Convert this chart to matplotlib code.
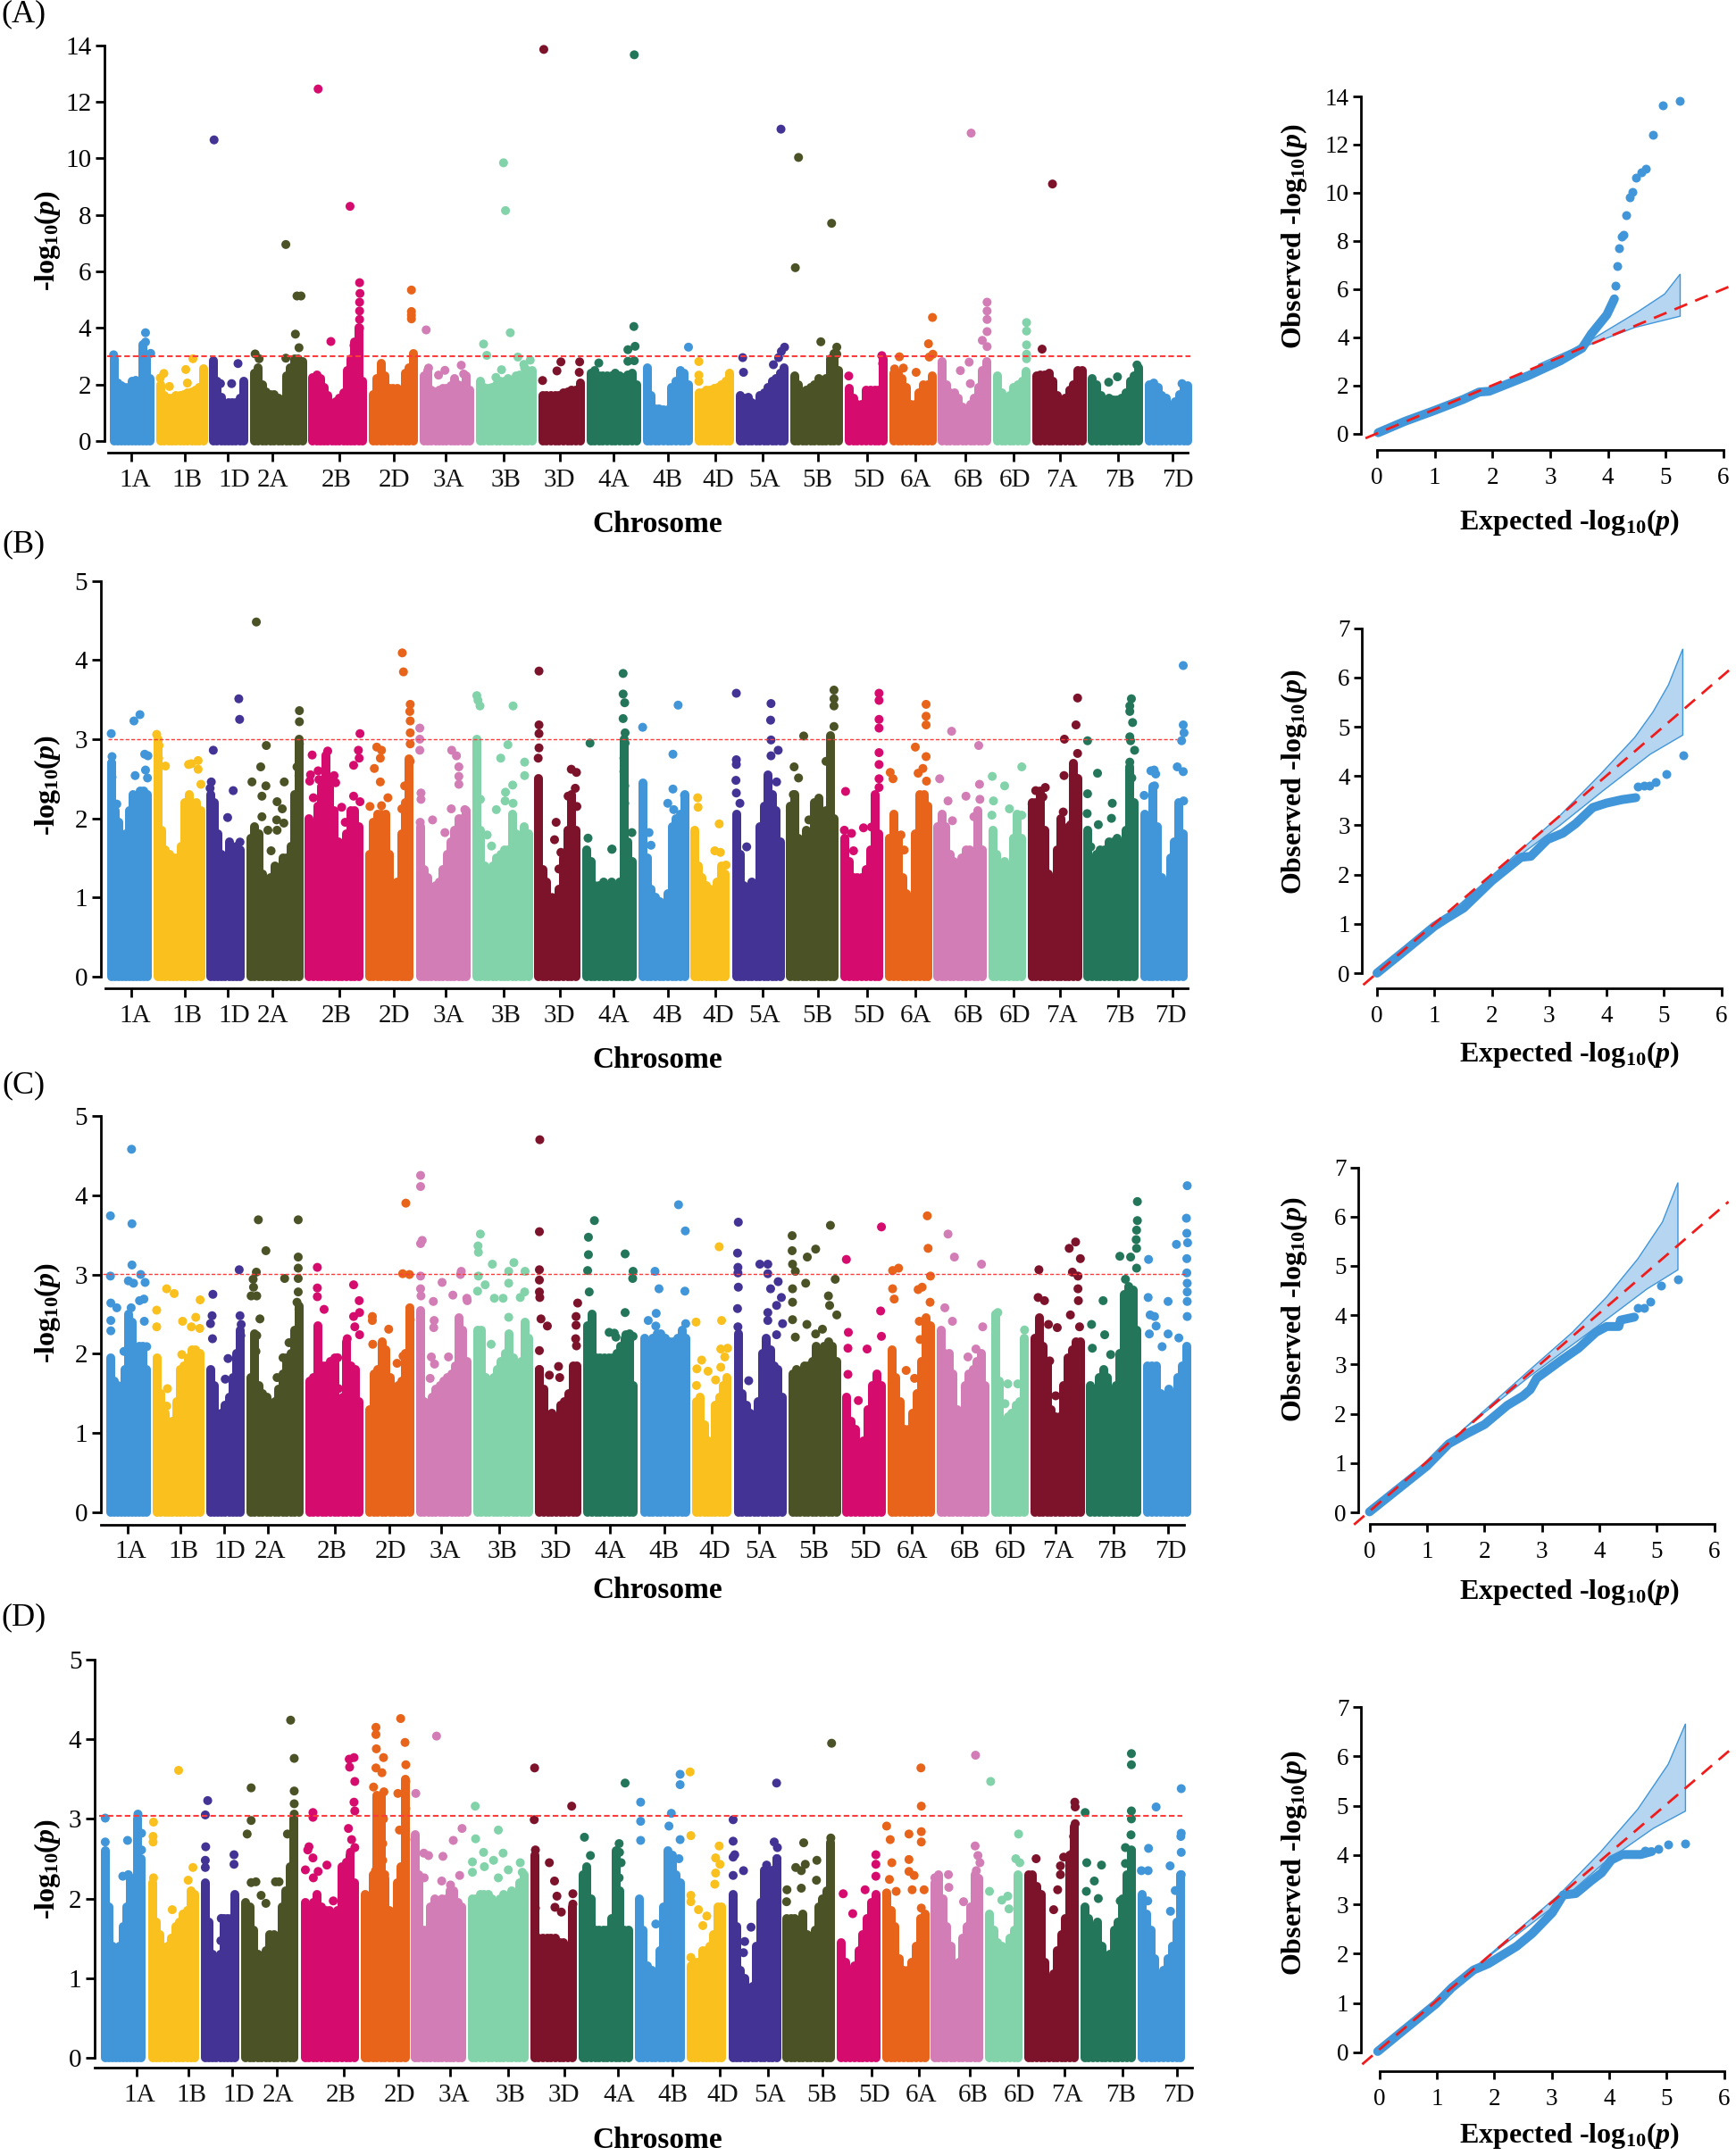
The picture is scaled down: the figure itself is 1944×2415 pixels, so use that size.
import matplotlib
matplotlib.use("Agg")
import matplotlib.pyplot as plt
import numpy as np

plt.rcParams['font.family'] = ['Liberation Serif', 'DejaVu Serif']
plt.rcParams['mathtext.fontset'] = 'custom'
plt.rcParams['mathtext.rm'] = 'Liberation Serif:bold'
plt.rcParams['mathtext.it'] = 'Liberation Serif:italic:bold'
plt.rcParams['mathtext.bf'] = 'Liberation Serif:bold'

W, H = 1944, 2415
UNIT = 700 / 1568   # px per genome-axis unit

chroms = ['1A', '1B', '1D', '2A', '2B', '2D', '3A', '3B', '3D', '4A', '4B', '4D',
          '5A', '5B', '5D', '6A', '6B', '6D', '7A', '7B', '7D']
chrom_width = [112, 129, 97, 143, 146, 122, 138, 151, 116, 136, 126, 99,
               132, 132, 108, 118, 133, 94, 136, 138, 119]
palette = ['#4196D9', '#F9C01E', '#433394', '#4A5226', '#D50B6E', '#E7641A', '#D37DB6',
           '#83D3AA', '#7C132B', '#24765A']
chrom_colors = [palette[i % 10] for i in range(21)]

# chromosome starts along each panel's axis
a_start = [276, 392, 525, 627, 774, 925, 1052, 1194, 1350, 1471, 1612, 1742, 1846, 1982, 2119, 2231, 2353, 2491, 2589, 2729, 2872]
b_start = [268, 385, 517, 618, 765, 916, 1043, 1185, 1340, 1461, 1602, 1731, 1836, 1972, 2108, 2221, 2342, 2479, 2578, 2718, 2860]
c_start = [266, 383, 517, 618, 766, 917, 1044, 1187, 1343, 1464, 1606, 1736, 1841, 1977, 2113, 2226, 2349, 2486, 2585, 2725, 2868]
d_start = [254, 371, 504, 606, 754, 905, 1031, 1174, 1330, 1451, 1592, 1722, 1827, 1963, 2100, 2213, 2334, 2471, 2569, 2710, 2854]

ab_ticks = [330, 463, 572, 683, 851, 987, 1117, 1263, 1404, 1538, 1676, 1794, 1914, 2051, 2175, 2295, 2422, 2542, 2658, 2804, 2941]
c_ticks = [321, 453, 562, 673, 840, 977, 1107, 1253, 1394, 1530, 1666, 1785, 1905, 2041, 2165, 2286, 2413, 2533, 2648, 2794, 2931]
d_ticks = [342, 473, 583, 694, 862, 998, 1128, 1274, 1415, 1551, 1687, 1806, 1926, 2062, 2186, 2306, 2433, 2553, 2669, 2815, 2952]

a_labpos = [338, 470, 587, 685, 843, 990, 1126, 1269, 1403, 1540, 1675, 1801, 1918, 2050, 2180, 2298, 2429, 2545, 2664, 2809, 2955]
b_labpos = [338, 470, 587, 685, 843, 990, 1126, 1269, 1403, 1540, 1675, 1801, 1918, 2050, 2180, 2298, 2429, 2545, 2664, 2809, 2937]
c_labpos = [328, 460, 577, 677, 833, 981, 1116, 1260, 1393, 1530, 1666, 1792, 1909, 2041, 2171, 2288, 2420, 2535, 2655, 2790, 2936]
d_labpos = [350, 481, 598, 697, 855, 1002, 1138, 1281, 1414, 1553, 1687, 1813, 1930, 2062, 2192, 2310, 2441, 2556, 2676, 2811, 2957]

# top of the dense band of SNPs, chromosome by chromosome
a_env = [[2.9, 2.05, 1.95, 1.9, 1.9, 2.1, 2.15, 1.95, 3.4, 2.9, 2.2],
         [2.0, 1.6, 1.5, 1.5, 1.6, 1.6, 1.65, 1.7, 1.75, 1.8, 1.9, 2.55],
         [2.85, 2.1, 1.55, 1.2, 1.35, 1.35, 1.35, 1.5, 2.1],
         [2.4, 2.6, 2.0, 1.75, 1.65, 1.65, 1.5, 1.45, 2.3, 2.6, 2.9, 2.9, 2.8],
         [2.25, 2.35, 2.2, 1.9, 1.6, 1.3, 1.4, 1.5, 1.7, 2.5, 2.9, 3.5, 4.0, 2.1],
         [1.65, 2.2, 2.75, 2.3, 1.85, 1.85, 1.85, 1.75, 2.4, 2.6, 3.1],
         [2.3, 2.5, 1.8, 1.75, 1.8, 1.85, 1.85, 1.95, 2.2, 2.0, 1.95, 2.3, 1.8],
         [2.1, 1.9, 1.85, 1.9, 2.0, 2.1, 2.1, 2.2, 2.1, 2.3, 2.35, 2.35, 2.5, 2.5],
         [1.6, 1.6, 1.6, 1.6, 1.6, 1.7, 1.75, 1.8, 1.8, 2.05],
         [2.4, 2.5, 2.3, 2.3, 2.3, 2.3, 2.4, 2.3, 2.25, 2.35, 2.4, 2.0],
         [2.6, 1.6, 1.15, 1.15, 1.1, 1.1, 1.9, 2.1, 2.5, 2.4, 2.0],
         [1.7, 1.7, 1.8, 1.8, 1.85, 1.9, 2.0, 2.1, 2.4],
         [1.6, 1.5, 1.55, 1.35, 1.3, 1.6, 1.7, 1.9, 2.1, 2.2, 2.4, 2.6],
         [2.3, 2.0, 1.7, 1.8, 1.9, 2.0, 2.2, 1.9, 2.2, 2.9, 3.1, 2.5],
         [1.85, 1.5, 1.3, 1.3, 1.8, 1.8, 1.8, 1.8, 2.9],
         [2.4, 2.4, 2.2, 1.9, 1.3, 1.3, 1.7, 2.0, 2.0, 2.3],
         [2.8, 2.0, 1.7, 1.7, 1.5, 1.2, 1.15, 1.3, 1.5, 1.9, 2.5, 2.8],
         [2.3, 1.7, 1.5, 1.6, 1.9, 2.0, 2.1, 2.45],
         [2.3, 2.35, 2.35, 2.4, 2.1, 1.6, 1.4, 1.5, 1.8, 2.0, 2.5, 2.5],
         [2.2, 2.0, 1.6, 1.45, 1.5, 1.45, 1.45, 1.5, 1.7, 2.1, 2.3, 2.6],
         [2.0, 2.05, 1.9, 1.6, 1.5, 1.25, 1.4, 1.65, 1.9, 1.95]]

b_env = [[2.7, 2.1, 1.95, 1.75, 1.8, 2.1, 2.3, 2.1, 2.35, 2.35, 2.3],
         [3.0, 1.85, 1.6, 1.55, 1.5, 1.5, 1.65, 2.2, 2.3, 1.95, 2.2, 2.1],
         [2.3, 2.2, 1.8, 1.55, 1.4, 1.7, 1.4, 1.65, 1.6],
         [1.75, 1.9, 1.8, 1.3, 1.15, 1.25, 1.4, 1.2, 1.5, 1.5, 1.65, 2.3, 3.0],
         [2.0, 1.9, 2.15, 2.4, 2.8, 2.5, 2.1, 1.7, 1.4, 1.8, 2.1, 2.1, 1.9],
         [1.55, 1.95, 2.05, 2.05, 2.05, 1.55, 1.15, 1.2, 1.8, 2.2, 2.75],
         [1.9, 1.35, 1.25, 1.1, 1.15, 1.2, 1.35, 1.55, 1.7, 1.85, 2.0, 2.0, 2.1],
         [3.0, 1.85, 1.4, 1.35, 1.4, 1.5, 1.55, 1.6, 1.6, 2.05, 1.8, 1.55, 1.9, 1.8],
         [2.5, 1.35, 1.2, 0.95, 0.7, 1.1, 1.5, 1.85, 2.3, 1.85],
         [1.6, 1.45, 1.15, 1.15, 1.2, 1.15, 1.2, 1.1, 1.2, 3.0, 1.7, 1.45],
         [2.45, 1.5, 1.1, 1.0, 0.95, 0.9, 1.05, 1.9, 2.0, 2.05, 2.3],
         [1.85, 1.4, 1.25, 1.15, 1.1, 0.95, 1.2, 1.4, 1.3],
         [2.05, 1.55, 1.15, 0.95, 1.2, 1.15, 1.9, 2.15, 2.55, 2.3, 2.1, 1.7],
         [2.15, 2.3, 1.75, 1.6, 1.85, 1.7, 2.2, 2.25, 1.85, 2.1, 3.05, 2.0],
         [1.75, 1.45, 1.25, 1.25, 1.25, 1.35, 1.6, 2.3, 1.8],
         [1.75, 2.05, 1.75, 1.25, 1.05, 1.0, 1.8, 2.3, 2.3, 2.15],
         [1.9, 2.05, 1.9, 1.55, 1.45, 1.4, 1.5, 1.6, 1.6, 1.5, 2.1, 1.6],
         [1.85, 1.55, 1.35, 1.45, 1.2, 1.75, 2.05, 1.75],
         [2.2, 2.2, 2.35, 1.85, 1.3, 0.95, 1.6, 2.0, 1.75, 1.9, 2.7, 2.5],
         [1.85, 1.4, 1.55, 1.6, 1.6, 1.7, 1.7, 1.75, 1.55, 1.85, 2.65, 2.2],
         [2.05, 1.95, 2.4, 1.9, 1.25, 1.1, 1.5, 1.7, 2.2, 1.8]]

c_env = [[1.95, 1.65, 1.6, 1.35, 1.8, 2.5, 2.4, 2.0, 2.1, 2.1, 1.8],
         [1.95, 1.5, 1.25, 0.85, 1.15, 1.4, 1.8, 1.85, 1.95, 2.05, 2.05, 2.0],
         [1.8, 1.6, 1.05, 1.25, 1.35, 1.45, 1.7, 2.0, 2.3],
         [1.7, 2.25, 1.6, 1.5, 1.45, 1.35, 1.4, 1.55, 1.75, 1.95, 2.0, 2.3, 2.6],
         [1.65, 1.7, 2.35, 1.85, 1.85, 1.9, 1.95, 1.4, 1.45, 2.15, 1.85, 1.8, 1.4],
         [1.3, 1.75, 1.8, 2.15, 2.05, 1.7, 1.25, 1.6, 1.65, 2.0, 2.55],
         [2.55, 1.4, 1.25, 1.45, 1.55, 1.6, 1.65, 1.7, 1.75, 1.85, 2.45, 2.3, 1.9],
         [2.3, 2.3, 1.7, 1.6, 1.7, 1.8, 1.9, 2.0, 2.25, 1.95, 1.7, 1.9, 2.4, 2.2],
         [1.8, 1.55, 1.2, 1.25, 1.2, 1.35, 1.4, 1.5, 1.85, 1.85],
         [2.35, 2.5, 1.95, 1.95, 1.95, 1.95, 1.95, 2.0, 2.1, 2.2, 2.25, 1.6],
         [2.2, 2.15, 2.2, 2.25, 2.25, 2.2, 2.15, 2.15, 2.2, 2.3, 2.2],
         [1.4, 1.45, 1.1, 0.9, 0.75, 1.35, 1.45, 1.6, 1.7],
         [2.25, 1.5, 1.35, 1.25, 1.2, 1.4, 2.0, 2.2, 2.05, 1.85, 1.8, 1.45],
         [1.75, 1.8, 1.75, 1.85, 1.85, 1.9, 2.1, 1.85, 2.1, 2.15, 2.1, 1.9],
         [1.45, 1.15, 1.05, 0.8, 0.9, 1.3, 1.6, 1.75, 1.6],
         [2.05, 1.7, 1.4, 1.05, 1.05, 1.25, 1.5, 1.9, 2.45, 2.35],
         [2.3, 2.0, 2.0, 1.75, 1.3, 1.25, 1.6, 1.75, 1.8, 1.9, 2.0, 1.6],
         [2.5, 1.65, 1.15, 1.2, 1.25, 1.35, 1.4, 2.2],
         [2.2, 2.45, 2.1, 1.9, 1.3, 1.2, 1.2, 1.6, 1.95, 2.05, 2.15, 2.15],
         [1.6, 1.55, 1.7, 1.8, 1.7, 1.45, 1.6, 2.0, 2.75, 2.85, 2.8, 2.3],
         [1.85, 1.85, 1.85, 1.5, 1.4, 1.55, 1.3, 1.7, 1.85, 2.1]]

d_env = [[2.6, 1.9, 1.4, 1.35, 1.4, 1.65, 1.9, 2.25, 2.25, 3.0, 2.5],
         [2.2, 1.7, 1.55, 1.1, 1.4, 1.5, 1.65, 1.7, 1.8, 1.85, 2.1, 2.05],
         [2.2, 1.7, 1.3, 1.1, 1.3, 1.75, 1.75, 1.75, 2.05],
         [1.95, 1.9, 1.6, 1.3, 1.2, 1.35, 1.55, 1.55, 1.5, 1.9, 2.1, 2.4, 3.0],
         [1.95, 1.75, 1.95, 2.05, 1.9, 1.85, 1.85, 1.6, 1.85, 2.4, 2.45, 2.55, 2.2],
         [2.05, 1.95, 2.3, 3.3, 3.3, 2.25, 1.85, 1.8, 2.2, 2.4, 3.5],
         [2.8, 2.3, 1.6, 1.6, 1.9, 2.0, 1.95, 2.0, 2.0, 2.1, 2.1, 1.95, 1.9],
         [2.0, 2.0, 2.05, 2.05, 2.05, 2.0, 1.95, 2.0, 2.05, 2.0, 2.1, 2.0, 2.2, 2.3],
         [2.55, 1.5, 1.5, 1.5, 1.5, 1.5, 1.45, 1.45, 1.4, 1.9],
         [2.3, 2.4, 2.0, 1.6, 1.6, 1.6, 1.6, 1.75, 2.6, 2.1, 1.6, 1.6],
         [2.0, 1.6, 1.15, 1.1, 1.05, 1.35, 1.9, 2.6, 2.55, 2.3, 2.2],
         [1.15, 1.2, 1.2, 1.35, 1.35, 1.4, 1.55, 1.9, 1.9],
         [2.05, 1.65, 1.1, 1.0, 0.85, 0.9, 1.4, 1.95, 2.35, 2.2, 2.35, 2.5],
         [1.75, 1.75, 1.75, 1.7, 1.8, 1.55, 1.45, 1.6, 1.9, 2.0, 2.1, 2.7],
         [1.45, 1.2, 1.05, 1.15, 1.35, 1.55, 1.75, 1.95, 2.05],
         [2.05, 1.85, 1.65, 1.25, 1.1, 1.1, 1.2, 1.4, 1.75, 1.8],
         [2.2, 2.3, 2.0, 1.65, 1.4, 1.05, 1.2, 1.5, 1.65, 1.9, 2.3, 2.25],
         [1.8, 1.6, 1.45, 1.4, 1.3, 1.5, 1.6, 2.3],
         [2.3, 2.3, 2.15, 2.05, 1.2, 0.95, 1.05, 1.35, 1.55, 1.75, 2.55, 2.9],
         [1.9, 1.75, 1.6, 1.7, 1.4, 1.25, 1.3, 1.6, 1.7, 2.0, 2.3, 2.6],
         [2.05, 1.8, 1.6, 1.25, 1.0, 1.1, 1.25, 1.4, 1.7, 2.3]]

# single SNPs above the band, (position, -log10 p); *_r positions are counted from 1523
a_pts = [(537, 10.65), (798, 12.45), (878, 8.3), (1263, 9.84), (1268, 8.15), (1364, 13.85), (717, 6.95), (745, 5.13), (755, 5.13),
         (741, 3.78), (750, 3.3), (717, 2.93), (830, 3.52), (888, 3.38), (902, 5.6), (903, 5.22), (902, 4.91), (902, 4.6), (902, 4.3),
         (902, 3.99), (1032, 5.34), (1032, 4.58), (1032, 4.45), (1032, 4.32), (1069, 3.93), (1280, 3.83), (1213, 3.43), (1221, 3.03),
         (1299, 2.97), (1330, 2.86), (1314, 2.71), (1316, 2.58), (1258, 2.52), (1244, 2.25), (365, 3.83), (365, 3.5), (378, 3.1),
         (285, 3.05), (484, 2.91), (466, 2.53), (470, 2.05), (425, 1.93), (411, 2.39), (402, 2.23), (597, 2.74), (581, 2.03), (553, 2.03),
         (640, 3.08), (650, 2.91), (1407, 2.8), (1454, 2.8), (1397, 2.48), (1453, 2.43), (1361, 2.14), (1075, 2.58), (1116, 2.5),
         (1157, 2.68), (1100, 2.33), (1163, 2.37), (1502, 2.76)]
a_pts_r = [(68, 13.66), (67, 4.05), (52, 3.23), (70, 3.35), (52, 2.82), (68, 2.84), (436, 11.03), (480, 10.03), (563, 7.7), (472, 6.13),
           (913, 10.89), (1117, 9.09), (204, 3.32), (230, 2.81), (230, 2.33), (230, 2.11), (340, 2.95), (342, 2.43), (445, 3.32),
           (437, 3.17), (430, 2.95), (417, 2.7), (536, 3.51), (576, 3.32), (576, 3.07), (606, 2.3), (689, 3.02), (691, 2.74), (816, 4.37),
           (806, 3.44), (817, 3.07), (808, 2.97), (733, 2.98), (743, 2.58), (721, 2.55), (775, 2.43), (953, 4.91), (953, 4.6), (953, 4.3),
           (953, 3.87), (941, 3.56), (953, 3.34), (908, 2.79), (886, 2.49), (911, 2.03), (1052, 4.19), (1052, 3.89), (1052, 3.4),
           (1052, 3.07), (1052, 2.91), (1091, 3.25), (1329, 2.69), (1280, 2.27), (1258, 2.08), (1442, 2.03)]

b_pts = [(279, 3.07), (281, 2.78), (280, 2.7), (281, 2.52), (280, 2.45), (280, 2.29), (293, 2.18), (336, 3.23), (351, 3.31), (363, 2.81),
         (371, 2.79), (339, 2.54), (365, 2.61), (370, 2.51), (393, 3.06), (399, 2.92), (398, 2.76), (415, 2.66), (396, 2.59), (473, 2.68),
         (480, 2.69), (497, 2.73), (497, 2.62), (504, 2.43), (535, 2.86), (599, 3.51), (601, 3.25), (530, 2.46), (527, 2.38), (585, 2.35),
         (571, 2.01), (602, 1.7), (643, 4.48), (668, 2.92), (654, 2.65), (632, 2.46), (667, 2.41), (713, 2.46), (657, 2.28), (695, 2.21),
         (708, 2.12), (712, 1.94), (694, 1.98), (672, 1.85), (695, 1.85), (680, 1.59), (657, 2.02), (751, 3.36), (751, 3.22), (751, 2.94),
         (745, 2.65), (750, 2.54), (783, 2.8), (779, 2.55), (777, 2.47), (798, 2.6), (800, 2.49), (786, 2.26), (822, 2.85), (838, 2.54),
         (842, 2.45), (857, 2.14), (887, 2.67), (899, 2.86), (903, 3.07), (901, 2.76), (887, 2.28), (903, 2.21), (866, 1.95), (1009, 4.09),
         (1012, 3.85), (1029, 3.44), (1028, 3.35), (1029, 3.23), (1029, 3.08), (1029, 2.94), (945, 2.9), (957, 2.86), (954, 2.76), (939, 2.63),
         (954, 2.46), (1015, 2.41), (1029, 2.72), (973, 2.26), (928, 2.15), (957, 2.16), (1008, 2.12), (1053, 3.14), (1053, 3.0), (1053, 2.86),
         (1056, 2.32), (1056, 2.24), (1054, 1.95), (1085, 1.98), (1116, 1.82), (1133, 2.86), (1145, 2.79), (1151, 2.65), (1151, 2.53),
         (1151, 2.43), (1132, 2.12), (1166, 2.11), (1196, 3.55), (1199, 3.49), (1204, 3.42), (1287, 3.42), (1274, 2.93), (1256, 2.76),
         (1316, 2.71), (1286, 2.42), (1316, 2.54), (1268, 2.33), (1267, 2.22), (1287, 2.19), (1245, 2.11), (1205, 2.24), (1222, 1.79),
         (1233, 1.65), (1352, 3.86), (1352, 3.18), (1352, 3.07), (1352, 2.89), (1350, 2.76), (1433, 2.62), (1446, 2.58), (1443, 2.38),
         (1425, 2.28), (1447, 2.15), (1395, 1.95), (1391, 1.73), (1407, 1.57), (1402, 1.36), (1385, 1.0), (1480, 2.95), (1535, 1.61), (1475, 1.75)]
b_pts_r = [(40, 3.83), (40, 3.57), (44, 3.46), (40, 3.26), (45, 3.08), (45, 2.95), (42, 2.76), (42, 2.59), (44, 2.41), (44, 2.19), (62, 1.82),
           (12, 1.61), (89, 3.15), (178, 3.43), (165, 2.81), (90, 2.42), (165, 2.37), (194, 2.29), (152, 2.19), (167, 2.11), (105, 1.82),
           (110, 1.66), (227, 2.26), (228, 2.14), (281, 1.93), (270, 1.59), (284, 1.57), (298, 1.41), (324, 3.58), (324, 2.74), (324, 2.68),
           (323, 2.48), (324, 2.32), (333, 2.19), (411, 3.45), (410, 3.24), (411, 2.99), (429, 2.86), (411, 2.79), (425, 2.46), (350, 1.64),
           (569, 3.62), (569, 3.51), (569, 3.42), (569, 3.16), (493, 3.04), (549, 2.72), (469, 2.65), (480, 2.51), (467, 2.3), (506, 1.98),
           (682, 3.58), (682, 3.49), (682, 3.25), (682, 3.14), (682, 2.83), (682, 2.68), (682, 2.5), (682, 2.39), (598, 2.34), (595, 1.85),
           (613, 1.81), (643, 1.88), (663, 1.89), (618, 1.59), (800, 3.44), (800, 3.29), (800, 3.18), (773, 2.9), (800, 2.78), (710, 2.58),
           (717, 2.5), (780, 2.57), (792, 2.63), (801, 2.47), (737, 1.79), (745, 1.6), (864, 3.1), (932, 2.92), (834, 2.5), (934, 2.43),
           (900, 2.28), (935, 2.24), (855, 2.22), (920, 2.02), (866, 1.97), (966, 2.53), (1040, 2.65), (997, 2.41), (969, 2.22), (1009, 2.12),
           (965, 2.04), (1040, 2.04), (1099, 2.39), (1075, 2.35), (1093, 2.27), (1066, 2.18), (1180, 3.52), (1176, 3.18), (1147, 3.0),
           (1180, 2.82), (1146, 2.54), (1178, 2.5), (1144, 2.08), (1163, 1.92), (1315, 3.51), (1311, 3.42), (1311, 3.35), (1318, 3.21),
           (1311, 3.03), (1313, 2.98), (1323, 2.86), (1205, 2.98), (1311, 2.71), (1230, 2.57), (1316, 2.51), (1205, 2.31), (1267, 2.19),
           (1204, 2.06), (1232, 1.92), (1265, 2.0), (1213, 1.64), (1445, 3.93), (1445, 3.18), (1447, 3.08), (1441, 2.98), (1430, 2.65),
           (1445, 2.59), (1372, 2.61), (1364, 2.6), (1376, 2.56), (1373, 2.41), (1347, 2.29), (1446, 2.22)]

c_pts = [(277, 3.74), (277, 2.98), (278, 2.64), (278, 2.42), (278, 2.29), (293, 2.58), (330, 4.58), (331, 3.64), (331, 3.12), (322, 2.92),
         (335, 2.89), (353, 3.0), (364, 2.9), (350, 2.67), (361, 2.69), (362, 2.41), (329, 2.58), (311, 2.03), (368, 2.09), (393, 2.55),
         (393, 2.34), (418, 2.82), (437, 2.76), (502, 2.68), (491, 2.46), (458, 2.41), (480, 2.34), (501, 2.32), (456, 1.99), (420, 1.56),
         (418, 1.34), (432, 0.97), (600, 3.06), (534, 2.75), (532, 2.48), (528, 2.38), (533, 2.19), (602, 2.48), (605, 2.37), (604, 2.23),
         (572, 1.94), (565, 1.68), (648, 3.69), (748, 3.69), (667, 3.3), (643, 3.03), (635, 2.94), (636, 2.84), (630, 2.73), (644, 2.73),
         (714, 2.95), (652, 2.44), (644, 2.23), (642, 2.03), (725, 2.14), (710, 1.95), (695, 1.7), (748, 3.22), (748, 3.08), (748, 2.95),
         (748, 2.78), (745, 2.65), (750, 2.56), (796, 3.09), (796, 2.83), (796, 2.72), (813, 2.56), (887, 2.87), (901, 2.67), (902, 2.52),
         (887, 2.47), (890, 2.34), (902, 2.24), (871, 2.19), (847, 1.95), (829, 1.66), (849, 1.56), (1018, 3.9), (1010, 3.01), (1027, 3.0),
         (934, 2.47), (934, 2.42), (975, 2.31), (935, 2.12), (996, 1.88), (1011, 1.97), (1028, 2.58), (1029, 2.43), (1055, 4.25), (1055, 4.11),
         (1059, 3.43), (1055, 3.39), (1055, 2.98), (1055, 2.82), (1056, 2.73), (1087, 2.66), (1089, 2.42), (1088, 2.33), (1082, 1.96),
         (1090, 1.87), (1125, 1.96), (1079, 1.69), (1109, 2.9), (1157, 3.04), (1155, 3.0), (1136, 2.74), (1171, 2.7), (1172, 2.67), (1205, 3.51),
         (1199, 3.36), (1200, 3.28), (1200, 2.98), (1235, 3.13), (1289, 3.15), (1276, 3.04), (1317, 3.04), (1276, 2.89), (1217, 2.87),
         (1198, 2.79), (1240, 2.7), (1262, 2.7), (1316, 2.78), (1305, 2.71), (1276, 2.46), (1232, 2.12), (1354, 4.7), (1353, 3.54), (1353, 3.06),
         (1353, 2.93), (1353, 2.78), (1354, 2.71), (1357, 2.44), (1373, 2.35), (1353, 2.04), (1353, 1.8), (1449, 2.64), (1445, 2.47), (1445, 2.36),
         (1444, 2.19), (1446, 2.1), (1378, 1.73), (1401, 1.84), (1404, 1.7), (1491, 3.68), (1476, 3.47), (1476, 3.25), (1474, 3.05), (1478, 2.78),
         (1528, 2.27), (1545, 2.21)]
c_pts_r = [(45, 3.26), (65, 3.04), (64, 2.95), (45, 2.52), (18, 2.26), (47, 2.24), (65, 2.22), (43, 2.03), (179, 3.88), (196, 3.55), (120, 3.04),
           (130, 2.82), (195, 2.79), (123, 2.51), (103, 2.42), (197, 2.38), (122, 2.35), (281, 3.35), (223, 2.4), (287, 2.42), (302, 2.07), (285, 2.06),
           (295, 1.96), (237, 1.92), (225, 1.81), (253, 1.78), (285, 1.83), (272, 1.67), (224, 1.6), (329, 3.66), (327, 3.27), (328, 3.09), (328, 3.02),
           (329, 2.84), (327, 2.57), (328, 2.34), (383, 3.13), (403, 3.13), (403, 3.01), (429, 2.91), (410, 2.82), (437, 2.71), (425, 2.61), (403, 2.52),
           (403, 2.42), (440, 2.38), (425, 2.24), (355, 1.66), (464, 3.49), (464, 3.3), (465, 3.13), (472, 3.04), (465, 2.82), (465, 2.65), (465, 2.43),
           (560, 3.62), (523, 3.32), (502, 3.22), (498, 2.89), (572, 2.94), (555, 2.73), (558, 2.61), (576, 2.49), (501, 2.37), (540, 2.31), (523, 2.25),
           (472, 2.21), (688, 3.6), (600, 3.19), (686, 2.54), (605, 2.27), (688, 2.22), (604, 2.07), (652, 2.06), (604, 1.74), (630, 1.41), (803, 3.74),
           (805, 3.33), (716, 3.05), (731, 3.08), (811, 2.98), (780, 2.81), (716, 2.82), (720, 2.69), (790, 2.84), (810, 2.65), (783, 2.41), (785, 2.18),
           (750, 1.79), (771, 1.69), (855, 3.51), (871, 3.22), (939, 3.13), (847, 2.58), (866, 2.41), (942, 2.34), (905, 1.96), (925, 2.06), (898, 1.57),
           (980, 2.52), (1047, 2.3), (1005, 1.62), (1030, 1.62), (998, 1.37), (1083, 3.06), (1081, 2.71), (1097, 2.67), (1129, 2.33), (1107, 2.37),
           (1175, 3.41), (1159, 3.33), (1187, 3.2), (1167, 3.03), (1181, 2.98), (1181, 2.82), (1182, 2.67), (1162, 2.49), (1185, 2.34), (1110, 1.91),
           (1125, 1.47), (1330, 3.92), (1330, 3.68), (1328, 3.56), (1327, 3.44), (1286, 3.23), (1313, 3.22), (1328, 3.33), (1328, 3.08), (1300, 2.94),
           (1244, 2.67), (1215, 2.37), (1248, 2.24), (1217, 2.07), (1263, 1.99), (1455, 4.12), (1453, 3.71), (1454, 3.52), (1456, 3.4), (1428, 3.38),
           (1358, 3.19), (1454, 3.2), (1454, 3.02), (1455, 2.89), (1455, 2.78), (1407, 2.66), (1357, 2.71), (1455, 2.66), (1455, 2.47), (1362, 2.49),
           (1373, 2.47), (1377, 2.35), (1360, 2.25), (1407, 2.25), (1434, 2.2), (1392, 2.09)]

d_pts = [(264, 3.01), (264, 2.71), (320, 2.73), (346, 3.06), (308, 2.28), (322, 2.3), (355, 2.82), (355, 2.61), (448, 3.61), (385, 2.96), (384, 2.78),
         (384, 2.71), (484, 2.39), (472, 2.23), (385, 2.26), (432, 1.86), (418, 1.39), (521, 3.23), (515, 3.05), (516, 2.65), (515, 2.48), (515, 2.39),
         (587, 2.55), (587, 2.43), (555, 1.75), (554, 1.47), (630, 3.39), (630, 2.98), (620, 2.81), (729, 4.24), (738, 3.76), (738, 3.35), (738, 3.19),
         (738, 3.06), (721, 2.81), (630, 2.2), (642, 2.21), (655, 2.04), (667, 1.94), (691, 2.21), (700, 2.21), (785, 3.08), (785, 3.02), (775, 2.65),
         (772, 2.61), (785, 2.51), (820, 2.42), (798, 2.34), (766, 2.36), (786, 2.26), (836, 1.97), (888, 3.77), (876, 3.75), (877, 3.65), (890, 3.47),
         (888, 3.21), (890, 3.1), (874, 2.88), (882, 2.74), (890, 2.64), (879, 2.58), (943, 4.15), (943, 4.06), (944, 3.88), (962, 3.77), (943, 3.64),
         (958, 3.58), (937, 3.4), (963, 3.34), (950, 3.25), (962, 3.0), (950, 2.78), (960, 2.69), (960, 2.48), (942, 2.35), (965, 2.3), (1005, 4.26),
         (1016, 3.96), (1018, 3.68), (1018, 3.47), (998, 3.32), (1018, 3.13), (1002, 2.86), (1018, 2.74), (1095, 4.04), (1043, 3.32), (1159, 2.88),
         (1137, 2.73), (1111, 2.53), (1063, 2.57), (1075, 2.54), (1064, 2.26), (1153, 2.29), (1108, 2.22), (1130, 2.17), (1192, 3.16), (1250, 2.86),
         (1193, 2.75), (1213, 2.58), (1262, 2.57), (1185, 2.46), (1238, 2.48), (1215, 2.4), (1185, 2.33), (1305, 2.45), (1275, 2.36), (1310, 2.33),
         (1250, 2.26), (1341, 3.64), (1434, 3.16), (1340, 2.99), (1378, 2.45), (1343, 2.61), (1391, 2.22), (1397, 2.03), (1437, 2.06), (1437, 1.93),
         (1343, 1.88), (1392, 1.89), (1408, 1.83), (1466, 2.77), (1481, 2.54)]
d_pts_r = [(45, 3.45), (30, 2.69), (31, 2.58), (35, 2.45), (30, 2.26), (84, 3.21), (84, 2.97), (84, 2.73), (183, 3.56), (183, 3.43), (161, 3.07),
           (155, 2.91), (183, 2.74), (180, 2.5), (122, 1.68), (208, 3.59), (210, 2.79), (281, 2.66), (272, 2.51), (283, 2.43), (272, 2.32), (270, 2.18),
           (210, 2.04), (210, 1.96), (229, 1.86), (250, 1.78), (240, 1.66), (210, 1.26), (316, 2.99), (316, 2.72), (320, 2.55), (316, 2.52), (316, 2.29),
           (342, 2.35), (361, 1.64), (345, 1.46), (342, 1.32), (425, 3.45), (419, 2.71), (427, 2.64), (426, 2.5), (400, 2.42), (563, 3.95), (561, 2.76),
           (493, 2.7), (526, 2.48), (473, 2.39), (497, 2.43), (487, 2.35), (525, 2.23), (451, 2.11), (487, 2.13), (450, 1.96), (592, 2.06), (616, 1.81),
           (674, 2.55), (674, 2.43), (674, 2.28), (647, 2.11), (787, 3.64), (788, 3.16), (788, 2.84), (788, 2.71), (701, 2.91), (710, 2.74), (757, 2.81),
           (714, 2.45), (757, 2.49), (757, 2.34), (770, 2.29), (708, 2.24), (765, 2.11), (795, 2.11), (701, 2.07), (725, 2.09), (788, 1.88), (924, 3.8),
           (923, 2.66), (930, 2.54), (935, 2.45), (926, 2.35), (856, 2.3), (822, 2.26), (857, 2.14), (894, 1.96), (962, 3.47), (1032, 2.81), (1025, 2.5),
           (1035, 2.45), (959, 2.09), (1005, 2.03), (990, 1.98), (1008, 1.87), (1173, 3.21), (1174, 3.15), (1174, 2.94), (1170, 2.78), (1170, 2.59),
           (1145, 2.52), (1137, 2.41), (1137, 2.3), (1076, 2.5), (1130, 2.11), (1120, 1.86), (1315, 3.82), (1315, 3.68), (1199, 3.08), (1315, 3.1),
           (1315, 3.0), (1314, 2.8), (1300, 2.64), (1315, 2.61), (1203, 2.45), (1240, 2.42), (1300, 2.44), (1222, 2.22), (1202, 2.09), (1232, 2.0),
           (1287, 1.97), (1440, 3.38), (1377, 3.15), (1440, 2.82), (1439, 2.78), (1440, 2.58), (1358, 2.63), (1412, 2.41), (1357, 2.35), (1340, 2.35),
           (1440, 2.3), (1425, 2.1), (1413, 1.84), (1356, 1.97)]

# QQ plots: dense run of the curve, separate top points, and the confidence band
qa_run_x = [0.02, 0.48, 0.97, 1.5, 1.77, 1.94, 2.63, 3.17, 3.55, 3.71, 3.98, 4.11]
qa_run_y = [0.03, 0.5, 0.93, 1.42, 1.72, 1.75, 2.41, 3.01, 3.54, 4.13, 4.93, 5.59]
qa_top_x = [4.13, 4.16, 4.19, 4.23, 4.27, 4.32, 4.37, 4.42, 4.49, 4.57, 4.66, 4.78, 4.95, 5.24]
qa_top_y = [6.12, 6.94, 7.68, 8.16, 8.26, 9.07, 9.8, 10.03, 10.62, 10.86, 11.0, 12.42, 13.62, 13.8]
qa_up = [(2.8, 2.87), (3.6, 3.73), (4.52, 5.06), (4.98, 5.79), (5.25, 6.62)]
qa_lo = [(2.8, 2.81), (3.66, 3.67), (4.46, 4.4), (5.25, 4.87)]

qb_run_x = [0.0, 0.5, 1.0, 1.2, 1.51, 2.0, 2.51, 2.68, 2.97, 3.24, 3.46, 3.76, 4.0, 4.27, 4.51]
qb_run_y = [0.0, 0.47, 0.95, 1.1, 1.32, 1.87, 2.35, 2.37, 2.71, 2.84, 3.03, 3.36, 3.45, 3.52, 3.56]
qb_top_x = [4.55, 4.65, 4.75, 4.86, 5.04, 5.34]
qb_top_y = [3.78, 3.8, 3.81, 3.88, 4.04, 4.42]
qb_up = [(1.3, 1.25), (2.49, 2.48), (3.19, 3.2), (3.89, 4.03), (4.49, 4.78), (4.81, 5.3), (5.08, 5.85), (5.33, 6.58)]
qb_lo = [(1.3, 1.25), (2.49, 2.39), (3.19, 3.0), (3.95, 3.71), (4.76, 4.44), (5.33, 4.83)]

qc_run_x = [0.0, 1.0, 1.38, 1.7, 2.0, 2.4, 2.67, 2.8, 2.91, 3.32, 3.64, 3.94, 4.13, 4.34, 4.37, 4.61]
qc_run_y = [0.01, 0.94, 1.39, 1.6, 1.78, 2.17, 2.36, 2.49, 2.72, 3.07, 3.33, 3.65, 3.77, 3.77, 3.9, 3.96]
qc_top_x = [4.67, 4.78, 4.89, 5.07, 5.37]
qc_top_y = [4.14, 4.15, 4.28, 4.6, 4.72]
qc_up = [(1.6, 1.65), (2.78, 2.88), (3.53, 3.65), (4.13, 4.37), (4.67, 5.14), (5.1, 5.89), (5.37, 6.69)]
qc_lo = [(1.6, 1.65), (2.78, 2.75), (4.02, 3.82), (4.83, 4.53), (5.37, 4.92)]

qd_run_x = [-0.03, 0.99, 1.26, 1.64, 1.9, 2.39, 2.66, 3.01, 3.2, 3.42, 3.69, 3.87, 4.04, 4.23, 4.55, 4.74]
qd_run_y = [0.02, 0.99, 1.31, 1.67, 1.8, 2.15, 2.41, 2.83, 3.19, 3.22, 3.48, 3.64, 3.9, 4.01, 4.01, 4.07]
qd_top_x = [4.63, 4.86, 5.03, 5.33]
qd_top_y = [4.09, 4.13, 4.21, 4.24]
qd_up = [(1.74, 1.8), (3.15, 3.22), (3.85, 4.06), (4.5, 4.93), (5.03, 5.84), (5.33, 6.66)]
qd_lo = [(1.74, 1.8), (3.15, 3.06), (3.9, 3.83), (4.77, 4.54), (5.33, 4.89)]

qq_colour = '#4196D9'
dot_pt = 7.2
fig = plt.figure(figsize=(W / 100, H / 100), dpi=100)


def px_axes(left, right, top, bottom):
    return fig.add_axes([left / W, 1 - bottom / H, (right - left) / W, (bottom - top) / H])


def ftext(x, y, s, **kw):
    fig.text(x / W, 1 - y / H, s, ha='center', va='center', **kw)


def manhattan(starts, env, pts, pts_r, ticks, labpos, ymax, yticks, spine_x, y_top, y0, x_axis_y,
              line_ends, thr, thr_ends, thr_lw, label_y):
    ax = px_axes(spine_x, W, y_top, y0)
    ax.set_xlim(spine_x / UNIT, W / UNIT)
    ax.set_ylim(0, ymax)
    ax.patch.set_alpha(0)
    for i in range(21):
        a = starts[i] + 11
        b = starts[i] + chrom_width[i] - 11
        ax.vlines(np.linspace(a, b, len(env[i])), 0, env[i], colors=chrom_colors[i],
                  linewidth=dot_pt, capstyle='round', zorder=2, clip_on=False)
    all_pts = list(pts) + [(x + 1523, v) for x, v in pts_r]
    xs = np.array([p[0] for p in all_pts], dtype=float)
    ys = np.array([p[1] for p in all_pts], dtype=float)
    idx = np.clip(np.searchsorted(starts, xs, side='right') - 1, 0, 20)
    ax.scatter(xs, ys, s=dot_pt ** 2, c=[chrom_colors[i] for i in idx], linewidths=0, zorder=3, clip_on=False)
    ax.plot(thr_ends, [thr, thr], color='#FF3B3B', lw=thr_lw, ls=(0, (3, 1.6)), zorder=4, clip_on=False)

    for s in ['top', 'right']:
        ax.spines[s].set_visible(False)
    ax.spines['left'].set_linewidth(2.0)
    ax.spines['left'].set_bounds(0, ymax)
    ax.spines['bottom'].set_linewidth(2.0)
    ax.spines['bottom'].set_position(('outward', (x_axis_y - y0) * 0.72))
    ax.spines['bottom'].set_bounds(line_ends[0], line_ends[1])
    ax.set_yticks(yticks)
    ax.tick_params(axis='y', length=7.5, width=2.0, pad=3, labelsize=21)
    ax.set_xticks(ticks)
    ax.set_xticklabels([])
    ax.tick_params(axis='x', length=7, width=2.0)
    for lab, x in zip(chroms, labpos):
        ax.annotate(lab, (x, 0), xycoords=('data', 'axes fraction'),
                    xytext=(0, -(label_y + 2 - y0) * 0.72), textcoords='offset points',
                    ha='center', va='center', fontsize=21, color='#111111', annotation_clip=False)


def qq(run_x, run_y, top_x, top_y, up, lo, ymax, yticks, spine_x, x0, x6, y_top, y0, x_axis_y, line):
    ax = px_axes(x0, x6, y_top, y0)
    ax.set_xlim(0, 6)
    ax.set_ylim(0, ymax)
    ax.patch.set_alpha(0)
    band = list(up) + list(lo)[::-1]
    ax.fill([p[0] for p in band], [p[1] for p in band], facecolor='#B5D5F0', edgecolor=qq_colour,
            linewidth=1.0, zorder=2, clip_on=False)
    ax.plot(line[0], line[1], color='#F01C1C', lw=2.0, ls=(0, (5.5, 3.5)), zorder=4, clip_on=False)
    ax.plot(run_x, run_y, color=qq_colour, lw=dot_pt, solid_capstyle='round', solid_joinstyle='round',
            zorder=3, clip_on=False)
    ax.scatter(top_x, top_y, s=dot_pt ** 2, color=qq_colour, linewidths=0, zorder=5, clip_on=False)
    for s in ['top', 'right']:
        ax.spines[s].set_visible(False)
    ax.spines['left'].set_linewidth(2.0)
    ax.spines['left'].set_position(('outward', (x0 - spine_x) * 0.72))
    ax.spines['left'].set_bounds(0, ymax)
    ax.spines['bottom'].set_linewidth(2.0)
    ax.spines['bottom'].set_position(('outward', (x_axis_y - y0) * 0.72))
    ax.spines['bottom'].set_bounds(0, 6)
    ax.set_xticks(range(7))
    ax.set_yticks(yticks)
    ax.tick_params(axis='both', length=6.5, width=2.0, labelsize=19.5, pad=7)
    ax.tick_params(axis='y', pad=3)


man_ylabel = r'-log$_{10}$($\mathit{p}$)'
qq_ylabel = r'Observed -log$_{10}$($\mathit{p}$)'
qq_xlabel = r'Expected -log$_{10}$($\mathit{p}$)'

manhattan(a_start, a_env, a_pts, a_pts_r, ab_ticks, a_labpos, 14, range(0, 15, 2), 117, 50.6, 494, 507,
          (272, 2980), 3.0, (268, 2986), 1.5, 536)
manhattan(b_start, b_env, b_pts, b_pts_r, ab_ticks, b_labpos, 5, range(6), 112.5, 650.6, 1094, 1107,
          (264, 2980), 3.0, (272, 2953), 1.0, 1136)
manhattan(c_start, c_env, c_pts, c_pts_r, c_ticks, c_labpos, 5, range(6), 112.5, 1250, 1694, 1707.5,
          (253, 2970), 3.01, (258, 2978), 1.0, 1736)
manhattan(d_start, d_env, d_pts, d_pts_r, d_ticks, d_labpos, 5, range(6), 106, 1859, 2305, 2316,
          (237, 2990), 3.04, (248, 2966), 1.5, 2345)

qq(qa_run_x, qa_run_y, qa_top_x, qa_top_y, qa_up, qa_lo, 14, range(0, 15, 2), 1524, 1542, 1930, 108, 485.5, 504,
   ((-0.2, 6.1), (-0.2, 6.1)))
qq(qb_run_x, qb_run_y, qb_top_x, qb_top_y, qb_up, qb_lo, 7, range(8), 1525, 1542, 1927.5, 703.6, 1090, 1107,
   ((-0.24, 6.19), (-0.24, 6.2)))
qq(qc_run_x, qc_run_y, qc_top_x, qc_top_y, qc_up, qc_lo, 7, range(8), 1521, 1533.6, 1919.5, 1307.5, 1694, 1707,
   ((-0.27, 6.25), (-0.25, 6.3)))
qq(qd_run_x, qd_run_y, qd_top_x, qd_top_y, qd_up, qd_lo, 7, range(8), 1523.5, 1544.7, 1930.5, 1912, 2299, 2320,
   ((-0.3, 6.2), (-0.24, 6.22)))

for lab, y in zip(['(A)', '(B)', '(C)', '(D)'], [16, 610, 1216, 1812]):
    ftext(26, y, lab, fontsize=26)
for y in [588, 1188, 1781, 2398]:
    ftext(736, y, 'Chrosome', fontsize=24, fontweight='bold')
for y in [270, 880, 1471, 2094]:
    ftext(53, y, man_ylabel, fontsize=23, fontweight='bold', rotation=90)
for y in [265, 876, 1467, 2087]:
    ftext(1449, y, qq_ylabel, fontsize=23, fontweight='bold', rotation=90)
for y in [585, 1181, 1783, 2392]:
    ftext(1758, y, qq_xlabel, fontsize=23, fontweight='bold')

fig.savefig('out.png', dpi=100)
